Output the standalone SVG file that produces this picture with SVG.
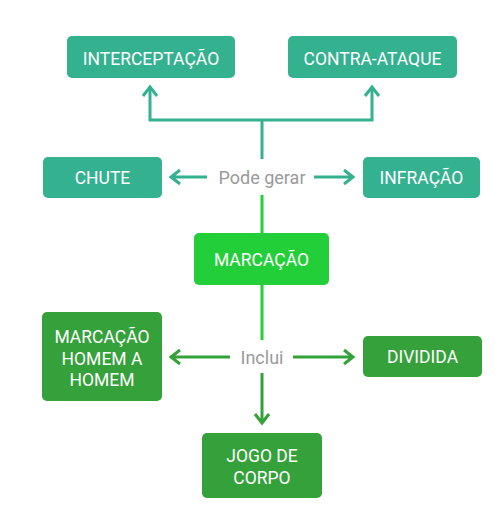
<svg xmlns="http://www.w3.org/2000/svg" width="499" height="512" viewBox="0 0 499 512">
<style>
.box{stroke:none}
.teal{fill:#34b18f}
.bright{fill:#22cf38}
.dark{fill:#34a13a}
.t{font-family:Roboto,"Liberation Sans",sans-serif;font-size:17.5px;font-weight:400;fill:#ffffff;text-anchor:middle}
.lbl{font-family:Roboto,"Liberation Sans",sans-serif;font-size:18px;font-weight:400;fill:#9a9a9a;text-anchor:middle}
.c{fill:none;stroke-width:3}
.ct{stroke:#34b18f}
.cb{stroke:#22cf38}
.cd{stroke:#34a13a}
</style>
<rect width="499" height="512" fill="#ffffff"/>
<g id="connectors">
  <path class="c ct" d="M262 159 V120 M150 120 H372 M150 121.5 V87 M372 121.5 V87"/>
  <path class="c ct" d="M143 96 L150 87 L157 96 M365 96 L372 87 L379 96"/>
  <path class="c ct" d="M207 177 H171 M180 170 L171 177 L180 184"/>
  <path class="c ct" d="M314 177 H353 M344 170 L353 177 L344 184"/>
  <path class="c cb" d="M262 195 V233 M262 285 V340"/>
  <path class="c cd" d="M230 357 H171 M180 350 L171 357 L180 364"/>
  <path class="c cd" d="M293 357 H353 M344 350 L353 357 L344 364"/>
  <path class="c cd" d="M262 373 V423 M255 414 L262 423 L269 414"/>
  <text class="lbl" x="262" y="183.5">Pode gerar</text>
  <text class="lbl" x="262" y="363.5" font-weight="500">Inclui</text>
</g>
<g id="interceptacao">
  <rect class="box teal" x="67" y="36" width="168" height="42" rx="5"/>
  <text class="t" x="151" y="65">INTERCEPTAÇÃO</text>
</g>
<g id="contra-ataque">
  <rect class="box teal" x="288" y="36" width="169" height="42" rx="5"/>
  <text class="t" x="372.5" y="65">CONTRA-ATAQUE</text>
</g>
<g id="chute">
  <rect class="box teal" x="43" y="157" width="119" height="41" rx="5"/>
  <text class="t" x="102.5" y="184">CHUTE</text>
</g>
<g id="infracao">
  <rect class="box teal" x="363" y="157" width="117" height="41" rx="5"/>
  <text class="t" x="421.5" y="184">INFRAÇÃO</text>
</g>
<g id="marcacao">
  <rect class="box bright" x="194" y="233" width="135" height="52" rx="5"/>
  <text class="t" x="261.5" y="266">MARCAÇÃO</text>
</g>
<g id="homem-a-homem">
  <rect class="box dark" x="42" y="312" width="120" height="89" rx="5"/>
  <text class="t" x="102" y="343">MARCAÇÃO</text>
  <text class="t" x="102" y="364.5">HOMEM A</text>
  <text class="t" x="102" y="386">HOMEM</text>
</g>
<g id="dividida">
  <rect class="box dark" x="363" y="336" width="119" height="41" rx="5"/>
  <text class="t" x="422.5" y="363">DIVIDIDA</text>
</g>
<g id="jogo-de-corpo">
  <rect class="box dark" x="202" y="433" width="120" height="65" rx="5"/>
  <text class="t" x="262" y="462">JOGO DE</text>
  <text class="t" x="262" y="483.5">CORPO</text>
</g>
</svg>
